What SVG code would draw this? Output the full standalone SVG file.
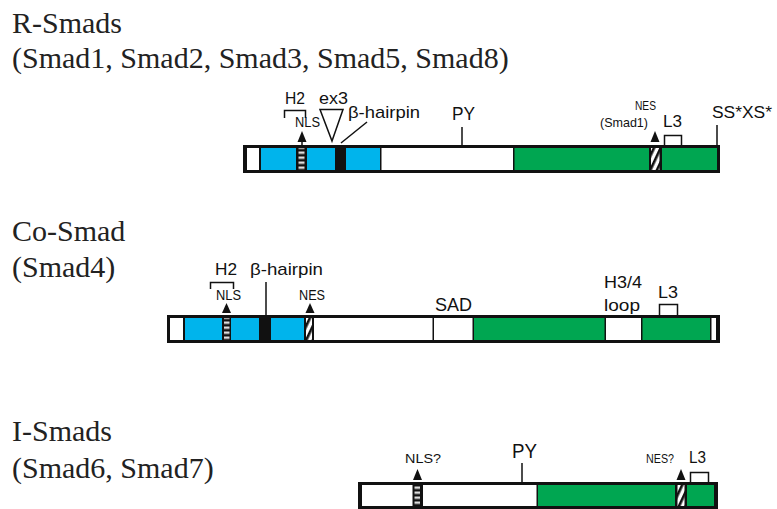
<svg xmlns="http://www.w3.org/2000/svg" width="777" height="509" viewBox="0 0 777 509">
<defs>
<style>
.title{font-family:"Liberation Serif","Times New Roman",serif;font-size:30px;fill:#222}
.lbl{font-family:"Liberation Sans",Arial,sans-serif;fill:#111}
.bar{fill:#111}
.w{fill:#fff}
.b{fill:#00B4EC}
.g{fill:#00A651}
.h{fill:url(#hatch)}
.s{fill:url(#dash)}
.ln{stroke:#111;stroke-width:1.5;fill:none}
.tri{fill:#111}
</style>
<pattern id="hatch" patternUnits="userSpaceOnUse" width="6" height="7" patternTransform="rotate(25)">
<rect width="6" height="7" fill="#fff"/>
<rect x="0" y="0" width="2.6" height="7" fill="#111"/>
</pattern>
<pattern id="dash" patternUnits="userSpaceOnUse" x="0" y="0.5" width="10" height="5">
<rect width="10" height="5" fill="#111"/>
<rect x="0" y="1" width="10" height="2.4" fill="#ddd"/>
</pattern>
</defs>
<rect width="777" height="509" fill="#fff"/>

<g id="titles">
<text class="title" x="12" y="33">R-Smads</text>
<text class="title" x="12" y="68">(Smad1, Smad2, Smad3, Smad5, Smad8)</text>
<text class="title" x="12" y="241">Co-Smad</text>
<text class="title" x="12" y="277">(Smad4)</text>
<text class="title" x="12" y="441">I-Smads</text>
<text class="title" x="12" y="478">(Smad6, Smad7)</text>
</g>

<g id="rsmad">
<rect class="bar" x="243" y="145" width="477" height="28"/>
<rect class="w" x="247" y="148" width="12" height="22"/>
<rect class="b" x="261" y="148" width="35" height="22"/>
<rect class="s" x="298.5" y="148" width="6" height="22"/>
<rect class="b" x="307" y="148" width="28" height="22"/>
<rect class="b" x="346" y="148" width="34" height="22"/>
<rect class="w" x="381.5" y="148" width="131.5" height="22"/>
<rect class="g" x="514.5" y="148" width="134.5" height="22"/>
<rect class="h" x="651" y="148" width="8.5" height="22"/>
<rect class="g" x="662" y="148" width="55" height="22"/>
</g>

<g id="rsmad-labels">
<text class="lbl" x="285" y="104" font-size="17" textLength="20" lengthAdjust="spacingAndGlyphs">H2</text>
<polyline class="ln" points="284.5,118 284.5,110.5 305.5,110.5 305.5,118"/>
<text class="lbl" x="295" y="127" font-size="14" textLength="25" lengthAdjust="spacingAndGlyphs">NLS</text>
<polygon class="tri" points="302,131 297.5,142 306.5,142"/>
<line class="ln" x1="302" y1="142" x2="302" y2="145"/>
<text class="lbl" x="319" y="104" font-size="17" textLength="29" lengthAdjust="spacingAndGlyphs">ex3</text>
<polygon points="320,109.5 343,109.5 332,141" fill="#fff" stroke="#111" stroke-width="1.5"/>
<text class="lbl" x="348" y="118" font-size="17" textLength="72" lengthAdjust="spacingAndGlyphs">β-hairpin</text>
<line class="ln" x1="341" y1="143" x2="367" y2="122"/>
<text class="lbl" x="452" y="120" font-size="18" textLength="23" lengthAdjust="spacingAndGlyphs">PY</text>
<line class="ln" x1="462" y1="127" x2="462" y2="145"/>
<text class="lbl" x="635" y="110" font-size="13" textLength="21" lengthAdjust="spacingAndGlyphs">NES</text>
<text class="lbl" x="600" y="127" font-size="13" textLength="48" lengthAdjust="spacingAndGlyphs">(Smad1)</text>
<polygon class="tri" points="655,131 650.5,142 659.5,142"/>
<text class="lbl" x="663" y="127" font-size="17" textLength="19" lengthAdjust="spacingAndGlyphs">L3</text>
<polyline class="ln" points="664.5,145 664.5,135.5 681.5,135.5 681.5,145"/>
<text class="lbl" x="712" y="118" font-size="16" textLength="60" lengthAdjust="spacingAndGlyphs">SS*XS*</text>
<line class="ln" x1="717" y1="125" x2="717" y2="145"/>
</g>

<g id="cosmad">
<rect class="bar" x="167" y="315" width="553" height="28"/>
<rect class="w" x="170" y="318" width="13" height="22"/>
<rect class="b" x="185" y="318" width="37" height="22"/>
<rect class="s" x="224" y="318" width="5.5" height="22"/>
<rect class="b" x="231" y="318" width="28" height="22"/>
<rect class="b" x="271" y="318" width="33" height="22"/>
<rect class="h" x="306" y="318" width="6" height="22"/>
<rect class="w" x="314" y="318" width="118.5" height="22"/>
<rect class="w" x="434" y="318" width="38.5" height="22"/>
<rect class="g" x="474" y="318" width="130.5" height="22"/>
<rect class="w" x="606" y="318" width="35" height="22"/>
<rect class="g" x="642.5" y="318" width="67.5" height="22"/>
<rect class="w" x="711.5" y="318" width="4.5" height="22"/>
</g>

<g id="cosmad-labels">
<text class="lbl" x="215" y="275" font-size="17" textLength="22" lengthAdjust="spacingAndGlyphs">H2</text>
<polyline class="ln" points="210.5,289 210.5,282.5 233.5,282.5 233.5,289"/>
<text class="lbl" x="216" y="300" font-size="14" textLength="25" lengthAdjust="spacingAndGlyphs">NLS</text>
<polygon class="tri" points="226.5,303 222,313 231,313"/>
<text class="lbl" x="250" y="275" font-size="17" textLength="73" lengthAdjust="spacingAndGlyphs">β-hairpin</text>
<line class="ln" x1="266" y1="282" x2="266" y2="315"/>
<text class="lbl" x="299" y="300" font-size="14" textLength="26" lengthAdjust="spacingAndGlyphs">NES</text>
<polygon class="tri" points="310,303 305.5,313 314.5,313"/>
<text class="lbl" x="435" y="311" font-size="18" textLength="37" lengthAdjust="spacingAndGlyphs">SAD</text>
<text class="lbl" x="604" y="288" font-size="17" textLength="38" lengthAdjust="spacingAndGlyphs">H3/4</text>
<text class="lbl" x="604" y="311" font-size="17" textLength="36" lengthAdjust="spacingAndGlyphs">loop</text>
<text class="lbl" x="658" y="298" font-size="17" textLength="20" lengthAdjust="spacingAndGlyphs">L3</text>
<polyline class="ln" points="659.5,315 659.5,304.5 677.5,304.5 677.5,315"/>
</g>

<g id="ismad">
<rect class="bar" x="358" y="482" width="360" height="27"/>
<rect class="w" x="362" y="485" width="50.5" height="21"/>
<rect class="s" x="414.5" y="485" width="5.5" height="21"/>
<rect class="w" x="423" y="485" width="113.5" height="21"/>
<rect class="g" x="538" y="485" width="137" height="21"/>
<rect class="h" x="677.5" y="485" width="7" height="21"/>
<rect class="g" x="687" y="485" width="27" height="21"/>
</g>

<g id="ismad-labels">
<text class="lbl" x="405" y="463" font-size="13" textLength="36" lengthAdjust="spacingAndGlyphs">NLS?</text>
<polygon class="tri" points="417.5,469 413,480 422,480"/>
<text class="lbl" x="512" y="458" font-size="20" textLength="25" lengthAdjust="spacingAndGlyphs">PY</text>
<line class="ln" x1="522" y1="463" x2="522" y2="482"/>
<text class="lbl" x="646" y="463" font-size="13" textLength="28" lengthAdjust="spacingAndGlyphs">NES?</text>
<polygon class="tri" points="681,469 676.5,480 685.5,480"/>
<text class="lbl" x="689" y="463" font-size="17" textLength="17" lengthAdjust="spacingAndGlyphs">L3</text>
<polyline class="ln" points="690.5,482 690.5,472.5 708.5,472.5 708.5,482"/>
</g>
</svg>
